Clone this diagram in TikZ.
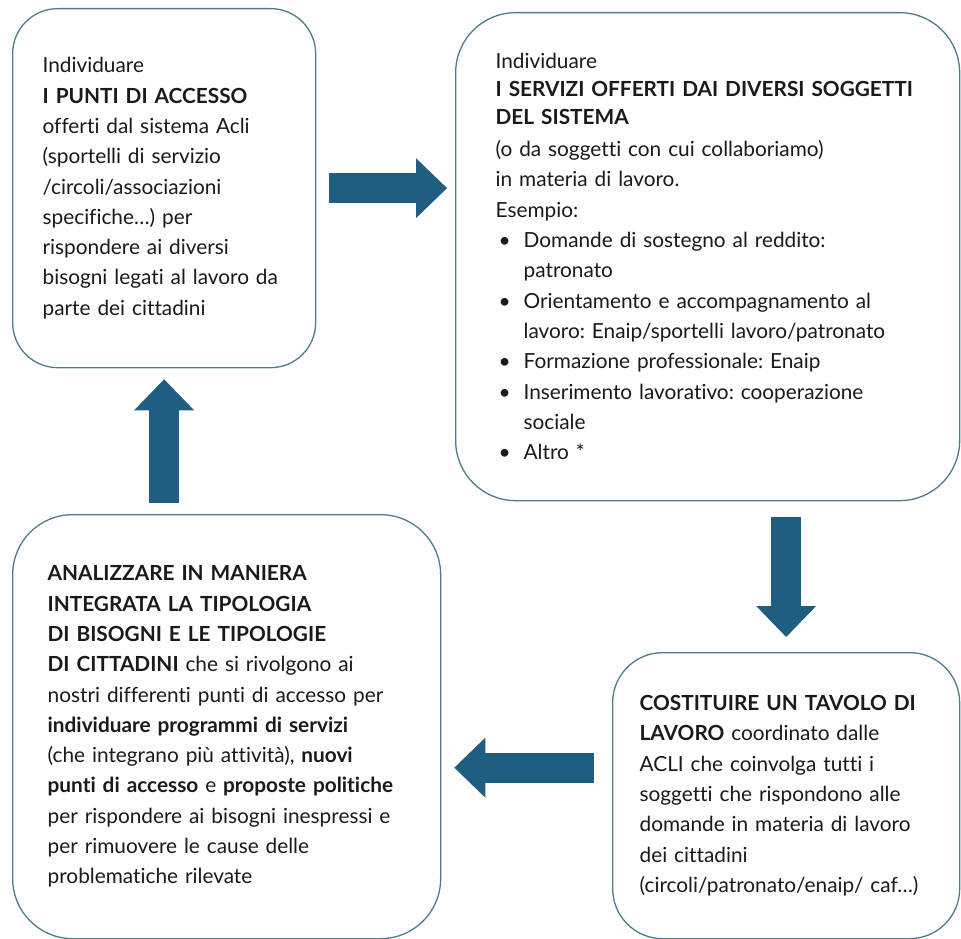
\documentclass[tikz,border=0pt]{standalone}
\usepackage{fontspec}
\setmainfont{Lato}[Ligatures=NoCommon]
\usepackage{xcolor}
\usepackage{tikz}
\usetikzlibrary{arrows.meta,positioning,calc}

\definecolor{arrowblue}{HTML}{1F5E80}
\definecolor{boxline}{HTML}{4E7C8E}
\definecolor{textdark}{HTML}{1A1A1A}

\frenchspacing
\newcommand{\bulletitem}{\hspace*{3pt}\makebox[25pt][l]{\textbullet}}
\newcommand{\bulletcont}{\hspace*{28pt}}

\begin{document}
\begin{tikzpicture}[x=1pt, y=-1pt,
  stepbox/.style={draw=boxline, line width=1.3pt, fill=white, align=left,
    text=textdark, anchor=north west, inner ysep=0pt,
    font=\fontsize{20.8}{30.3}\selectfont},
  blockarrow/.style={draw=arrowblue, line width=30pt,
    -{Triangle[length=31pt, width=60pt, line width=0pt, fill=arrowblue]}}
]
\useasboundingbox (0,0) rectangle (961,939);

% Top left: access points
\node[stepbox, rounded corners=45pt, minimum width=303pt, minimum height=359pt,
  text width=243pt, inner xsep=30pt] (punti) at (12,8)
  {Individuare\\
   \textbf{I PUNTI DI ACCESSO}\\
   offerti dal sistema Acli\\
   (sportelli di servizio\\
   /circoli/associazioni\\
   specifiche…) per\\
   rispondere ai diversi\\
   bisogni legati al lavoro da\\
   parte dei cittadini};

% Top right: services of the system
\node[stepbox, rounded corners=60pt, minimum width=504pt, minimum height=488pt,
  text width=424pt, inner xsep=40pt] (servizi) at (455,12)
  {Individuare\\[-3pt]
   \textbf{I SERVIZI OFFERTI DAI DIVERSI SOGGETTI}\\[-2pt]
   \textbf{DEL SISTEMA}\\[2pt]
   (o da soggetti con cui collaboriamo)\\
   in materia di lavoro.\\
   Esempio:\\
   \bulletitem Domande di sostegno al reddito:\\
   \bulletcont patronato\\
   \bulletitem Orientamento e accompagnamento al\\
   \bulletcont lavoro: Enaip/sportelli lavoro/patronato\\
   \bulletitem Formazione professionale: Enaip\\
   \bulletitem Inserimento lavorativo: cooperazione\\
   \bulletcont sociale\\
   \bulletitem Altro *};

% Bottom left: integrated analysis
\node[stepbox, rounded corners=60pt, minimum width=428pt, minimum height=424pt,
  text width=358pt, inner xsep=35pt] (analisi) at (12,514)
  {\textbf{ANALIZZARE IN MANIERA}\\
   \textbf{INTEGRATA LA TIPOLOGIA}\\
   \textbf{DI BISOGNI E LE TIPOLOGIE}\\
   \textbf{DI CITTADINI} che si rivolgono ai\\
   nostri differenti punti di accesso per\\
   \textbf{individuare programmi di servizi}\\
   (che integrano più attività), \textbf{nuovi}\\
   \textbf{punti di accesso} e \textbf{proposte politiche}\\
   per rispondere ai bisogni inespressi e\\
   per rimuovere le cause delle\\
   problematiche rilevate};

% Bottom right: working table
\node[stepbox, rounded corners=50pt, minimum width=347pt, minimum height=286pt,
  text width=293pt, inner xsep=27pt] (tavolo) at (612,652)
  {\textbf{COSTITUIRE UN TAVOLO DI}\\
   \textbf{LAVORO} coordinato dalle\\
   ACLI che coinvolga tutti i\\
   soggetti che rispondono alle\\
   domande in materia di lavoro\\
   dei cittadini\\
   (circoli/patronato/enaip/ caf…)};

% Block arrows between the steps
\draw[blockarrow, shorten <=13pt, shorten >=8pt]
  (punti.east) -- (punti.east -| servizi.west);
\draw[blockarrow, shorten <=16pt, shorten >=15pt]
  (servizi.south -| tavolo.north) -- (tavolo.north);
\coordinate (tavolo-out) at ([yshift=28pt]tavolo.west);
\draw[blockarrow, shorten <=18pt, shorten >=13pt]
  (tavolo-out) -- (tavolo-out -| analisi.east);
\draw[blockarrow, shorten <=11pt, shorten >=11pt]
  (analisi.north -| punti.south) -- (punti.south);

\end{tikzpicture}
\end{document}
